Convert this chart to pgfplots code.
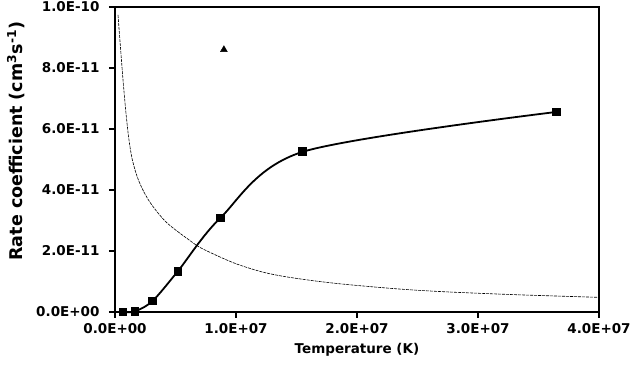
\documentclass[border=0pt]{standalone}
\usepackage{pgfplots}
\pgfplotsset{compat=1.18}
\usepackage{fontspec}
\setmainfont{DejaVu Sans}

\begin{document}
\begin{tikzpicture}
\begin{axis}[
    scale only axis,
    width=484pt, height=305pt,
    xmin=0, xmax=4e7,
    ymin=0, ymax=1e-10,
    axis line style={line width=2.2pt},
    tick style={line width=2pt, black},
    major tick length=6pt,
    tick align=outside,
    xtick pos=bottom, ytick pos=left,
    xtick={0,1e7,2e7,3e7,4e7},
    xticklabels={0.0E+00,1.0E+07,2.0E+07,3.0E+07,4.0E+07},
    ytick={0,2e-11,4e-11,6e-11,8e-11,1e-10},
    yticklabels={0.0E+00,2.0E-11,4.0E-11,6.0E-11,8.0E-11,1.0E-10},
    scaled ticks=false,
    ticklabel style={font=\fontsize{13.5}{15}\selectfont\bfseries},
    xticklabel style={yshift=-2pt},
    yticklabel style={xshift=-6pt},
    xlabel={Temperature (K)},
    ylabel={Rate coefficient (cm\textsuperscript{3}s\textsuperscript{-1})},
    xlabel style={font=\fontsize{13.5}{15}\selectfont\bfseries, yshift=-3pt},
    ylabel style={font=\fontsize{17.5}{19}\selectfont\bfseries,
        at={(axis description cs:-0.205,0.56)}, anchor=center},
    clip=false,
]
% fitted decreasing curve
\addplot[black, line width=0.6pt, dash pattern=on 3pt off 1pt, smooth] coordinates {
 (2.5e5,9.74e-11) (3.6e5,9.15e-11) (5.2e5,8.33e-11) (6.6e5,7.62e-11)
 (8.0e5,6.98e-11) (9.3e5,6.43e-11) (1.13e6,5.72e-11) (1.40e6,5.05e-11)
 (1.82e6,4.45e-11) (2.37e6,3.95e-11) (3.06e6,3.50e-11) (4.3e6,2.92e-11)
 (6.2e6,2.34e-11) (7.2e6,2.08e-11) (9.75e6,1.62e-11) (1.2e7,1.33e-11)
 (1.39e7,1.17e-11) (1.65e7,1.02e-11) (1.92e7,0.90e-11) (2.36e7,0.75e-11)
 (2.74e7,0.66e-11) (3.29e7,0.57e-11) (3.84e7,0.50e-11) (4.0e7,0.48e-11)};
% calculated rate coefficients
\addplot[black, line width=1.8pt, smooth, mark=square*, mark size=3.5pt,
    mark options={solid}] coordinates {
 (6.6e5,0) (1.65e6,0.02e-11) (3.1e6,0.36e-11) (5.2e6,1.34e-11)
 (8.7e6,3.08e-11) (1.55e7,5.25e-11) (3.65e7,6.56e-11)};
% single measurement
\addplot[only marks, black, mark=triangle*, mark size=4pt] coordinates {(9.0e6,8.6e-11)};
\coordinate (O) at (rel axis cs:0,0);
\end{axis}
\pgfresetboundingbox
\path (O) ++(-115pt,-67pt) rectangle ++(635pt,379pt);
\end{tikzpicture}
\end{document}
